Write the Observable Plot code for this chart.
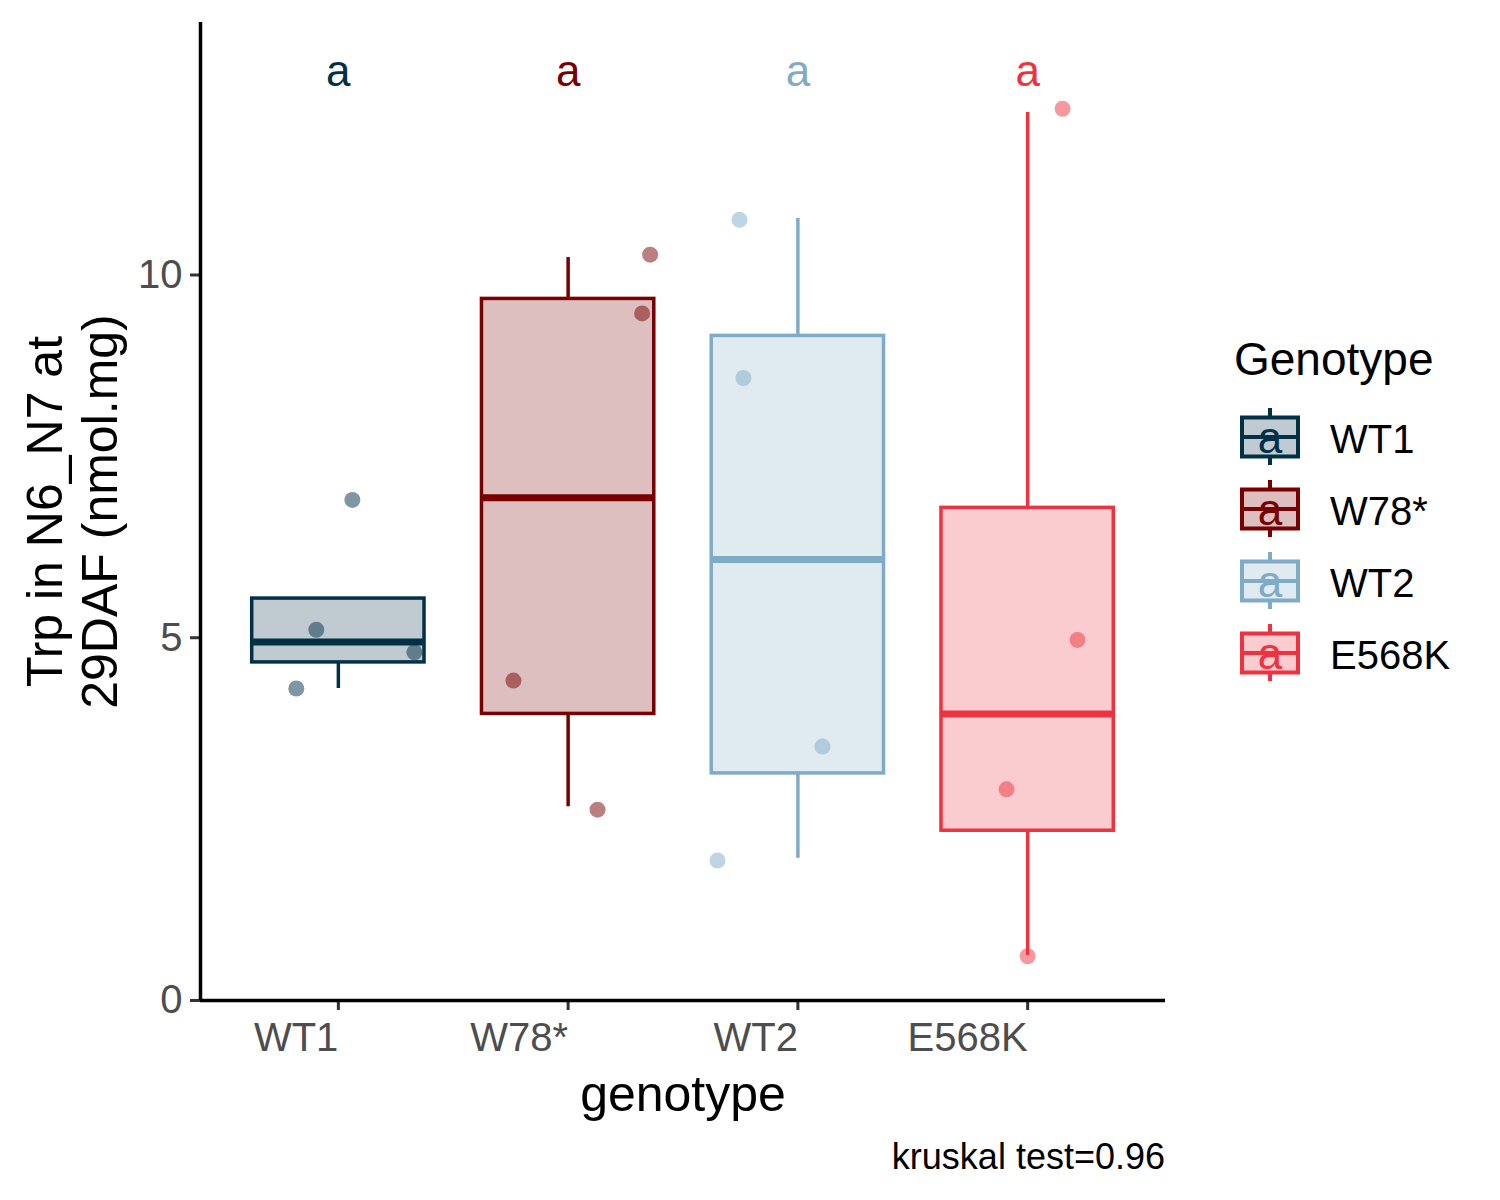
<!DOCTYPE html>
<html>
<head>
<meta charset="utf-8">
<script src="https://cdn.jsdelivr.net/npm/d3@7"></script>
<script src="https://cdn.jsdelivr.net/npm/@observablehq/plot@0.6"></script>
<style>
  html, body { margin: 0; padding: 0; background: white; }
  #wrap { position: relative; width: 1500px; height: 1200px; font-family: "Liberation Sans", Arial, sans-serif; }
  #chart { position: absolute; left: 0; top: 0; }
  #legend { position: absolute; left: 1200px; top: 320px; }
  #caption { position: absolute; left: 0; width: 1165px; top: 1139px; text-align: right; font-size: 36px; line-height: 36px; color: #000; }
</style>
</head>
<body>
<div id="wrap">
  <div id="chart"></div>
  <div id="legend"></div>
  <div id="caption">kruskal test=0.96</div>
</div>
<script>
// ---- data ----
const genotypes = ["WT1", "W78*", "WT2", "E568K"];
const colors = ["#023047", "#780000", "#7fabc7", "#ee3340"];
const letters = ["a", "a", "a", "a"];
const letterY = 12.8;

// box-plot statistics per genotype
const q1 = [4.66, 3.95, 3.13, 2.34];
const median = [4.94, 6.93, 6.08, 3.95];
const q3 = [5.54, 9.67, 9.16, 6.79];
const whiskerLow = [4.30, 2.67, 1.96, 0.62];
const whiskerHigh = [5.54, 10.24, 10.78, 12.24];

// individual (jittered) observations
const pointGenotype = ["WT1", "WT1", "WT1", "WT1",
                       "W78*", "W78*", "W78*", "W78*",
                       "WT2", "WT2", "WT2", "WT2",
                       "E568K", "E568K", "E568K", "E568K"];
const pointValue = [6.90, 5.11, 4.80, 4.30,
                    10.28, 9.47, 4.41, 2.63,
                    10.76, 8.58, 3.50, 1.93,
                    12.29, 4.97, 2.91, 0.61];
const pointJitter = [0.061, -0.096, 0.331, -0.183,
                     0.357, 0.322, -0.238, 0.128,
                     -0.254, -0.237, 0.107, -0.350,
                     0.152, 0.217, -0.092, 0.000];

const yTicks = [0, 5, 10];
const yTitle = "Trp in N6_N7 at\n29DAF (nmol.mg)";
const xTitle = "genotype";
const legendTitle = "Genotype";

// ---- tables ----
const boxes = genotypes.map((g, i) => ({
  genotype: g, pos: i + 1, q1: q1[i], median: median[i], q3: q3[i],
  lo: whiskerLow[i], hi: whiskerHigh[i], letter: letters[i]
}));
const points = pointValue.map((v, i) => ({
  genotype: pointGenotype[i],
  pos: genotypes.indexOf(pointGenotype[i]) + 1 + pointJitter[i],
  value: v
}));

const half = 0.375; // half box width in category units
const font = "Liberation Sans, Arial, sans-serif";

const chart = Plot.plot({
  width: 1500,
  height: 1130,
  marginLeft: 200,
  marginRight: 335,
  marginTop: 22,
  marginBottom: 130,
  style: { fontFamily: font, background: "white", overflow: "visible" },
  x: { domain: [0.4, 4.6] },
  y: { domain: [0, 13.48] },
  color: { domain: genotypes, range: colors },
  marks: [
    Plot.axisY({ ticks: yTicks, tickSize: 10, tickPadding: 8, fontSize: 40,
      fill: "#4d4d4d", stroke: "#333333", strokeWidth: 3, label: null }),
    Plot.axisX({ ticks: [1, 2, 3, 4], tickFormat: d => genotypes[d - 1],
      textAnchor: "end", tickSize: 10, tickPadding: 12, fontSize: 40,
      fill: "#4d4d4d", stroke: "#333333", strokeWidth: 3, label: null }),
    // whiskers
    Plot.ruleX(boxes, { x: "pos", y1: "q3", y2: "hi", stroke: "genotype", strokeWidth: 3.5 }),
    Plot.ruleX(boxes, { x: "pos", y1: "lo", y2: "q1", stroke: "genotype", strokeWidth: 3.5 }),
    // boxes
    Plot.rect(boxes, { x1: d => d.pos - half, x2: d => d.pos + half, y1: "q1", y2: "q3",
      fill: "genotype", fillOpacity: 0.25, stroke: "genotype", strokeWidth: 3.5 }),
    // medians
    Plot.ruleY(boxes, { y: "median", x1: d => d.pos - half, x2: d => d.pos + half,
      stroke: "genotype", strokeWidth: 7 }),
    // jittered points
    Plot.dot(points, { x: "pos", y: "value", r: 8, fill: "genotype", fillOpacity: 0.5, stroke: null }),
    // significance letters
    Plot.text(boxes, { x: "pos", y: () => letterY, text: "letter", fill: "genotype", fontSize: 44 }),
    // axis lines
    Plot.ruleY([0], { stroke: "black", strokeWidth: 3.5 }),
    Plot.ruleX([0.4], { stroke: "black", strokeWidth: 3.5 }),
    // axis titles
    Plot.text([yTitle], { text: d => d, frameAnchor: "left", textAnchor: "middle", lineAnchor: "middle",
      dx: -128.5, rotate: -90, fontSize: 50, lineHeight: 1.1, fill: "black" }),
    Plot.text([xTitle], { text: d => d, frameAnchor: "bottom", textAnchor: "middle", lineAnchor: "middle",
      dy: 94, fontSize: 50, fill: "black" })
  ]
});
document.getElementById("chart").appendChild(chart);

// ---- legend (right side) ----
const lg = d3.select("#legend").append("svg")
  .attr("width", 300).attr("height", 380)
  .style("font-family", font);
lg.append("text").attr("x", 34).attr("y", 55).attr("font-size", 46).attr("fill", "black").text(legendTitle);
genotypes.forEach((g, i) => {
  const c = 117 + i * 72;
  const col = colors[i];
  const k = lg.append("g");
  k.append("line").attr("x1", 70).attr("x2", 70).attr("y1", c - 29).attr("y2", c - 19.5)
    .attr("stroke", col).attr("stroke-width", 4);
  k.append("line").attr("x1", 70).attr("x2", 70).attr("y1", c + 19.5).attr("y2", c + 28)
    .attr("stroke", col).attr("stroke-width", 4);
  k.append("rect").attr("x", 42).attr("y", c - 19.5).attr("width", 56).attr("height", 39)
    .attr("fill", col).attr("fill-opacity", 0.25).attr("stroke", col).attr("stroke-width", 4);
  k.append("line").attr("x1", 42).attr("x2", 98).attr("y1", c).attr("y2", c)
    .attr("stroke", col).attr("stroke-width", 4);
  k.append("text").attr("x", 70).attr("y", c + 16).attr("text-anchor", "middle")
    .attr("font-size", 44).attr("fill", col).text(letters[i]);
  lg.append("text").attr("x", 130).attr("y", c + 16).attr("font-size", 40).attr("fill", "black").text(g);
});
</script>
</body>
</html>
